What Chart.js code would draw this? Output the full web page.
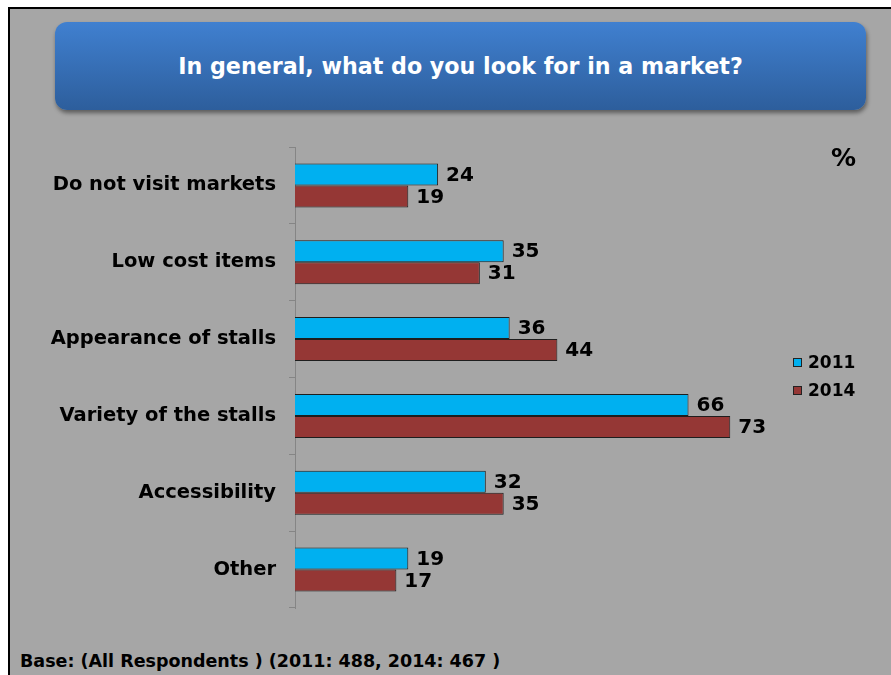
<!DOCTYPE html>
<html>
<head>
<meta charset="utf-8">
<script src="https://cdn.jsdelivr.net/npm/chart.js@4.4.1/dist/chart.umd.min.js"></script>
<style>
	html, body { margin: 0; padding: 0; background: #fff; }
	body { width: 891px; height: 675px; position: relative; overflow: hidden; font-family: 'DejaVu Sans', sans-serif; }
	.frame { position: absolute; left: 8px; top: 7px; width: 900px; height: 700px; background: #a6a6a6; border-top: 2px solid #000; border-left: 2px solid #000; }
	.title-box { position: absolute; left: 55px; top: 22px; width: 811px; height: 88px; border-radius: 12px;
		background: linear-gradient(#4080d0, #2d5e9c); box-shadow: 1px 3px 4px rgba(0,0,0,0.45);
		color: #fff; font-weight: bold; font-size: 22.2px; line-height: 88px; text-align: center; }
	.footer { position: absolute; left: 20px; top: 651px; font-weight: bold; font-size: 17.5px; color: #000; }
	canvas { position: absolute; left: 0; top: 0; }
</style>
</head>
<body>
<div class="frame"></div>
<div class="title-box">In general, what do you look for in a market?</div>
<div class="footer">Base: (All Respondents ) (2011: 488, 2014: 467 )</div>
<canvas id="chart" width="891" height="675"></canvas>
<script>
	'use strict';

	const categories = ['Do not visit markets', 'Low cost items', 'Appearance of stalls', 'Variety of the stalls', 'Accessibility', 'Other'];
	const seriesNames = ['2011', '2014'];
	const values2011 = [24, 35, 36, 66, 32, 19];
	const values2014 = [19, 31, 44, 73, 35, 17];

	const colors = ['#00b0f0', '#953735'];
	const fontFamily = "'DejaVu Sans', Verdana, sans-serif";

	// value labels at the end of each bar
	const valueLabels = {
		id: 'valueLabels',
		afterDatasetsDraw: function(chart) {
			const ctx = chart.ctx;
			ctx.save();
			ctx.fillStyle = '#000';
			ctx.font = 'bold 20px ' + fontFamily;
			ctx.textAlign = 'left';
			ctx.textBaseline = 'middle';
			chart.data.datasets.forEach(function(ds, i) {
				chart.getDatasetMeta(i).data.forEach(function(bar, j) {
					ctx.fillText(String(ds.data[j]), bar.x + 8, bar.y + 1);
				});
			});
			ctx.restore();
		}
	};

	// legend on the right and the % sign
	const sideLegend = {
		id: 'sideLegend',
		afterDraw: function(chart) {
			const ctx = chart.ctx;
			ctx.save();
			ctx.fillStyle = '#000';
			ctx.font = 'bold 25px ' + fontFamily;
			ctx.textBaseline = 'middle';
			ctx.fillText('%', 831, 159);

			ctx.font = 'bold 17px ' + fontFamily;
			chart.data.datasets.forEach(function(ds, i) {
				const y = 363 + i * 28;
				ctx.fillStyle = ds.backgroundColor;
				ctx.fillRect(793, y - 5, 9, 9);
				ctx.strokeStyle = '#222';
				ctx.lineWidth = 1;
				ctx.strokeRect(793.5, y - 4.5, 8, 8);
				ctx.fillStyle = '#000';
				ctx.fillText(ds.label, 808, y + 1);
			});
			ctx.restore();
		}
	};

	new Chart(document.getElementById('chart'), {
		type: 'bar',
		data: {
			labels: categories,
			datasets: [
				{ label: seriesNames[0], data: values2011, backgroundColor: colors[0], borderColor: '#1e1e1e', borderWidth: 1, borderSkipped: 'start' },
				{ label: seriesNames[1], data: values2014, backgroundColor: colors[1], borderColor: '#1e1e1e', borderWidth: 1, borderSkipped: 'start' }
			]
		},
		options: {
			indexAxis: 'y',
			responsive: false,
			animation: false,
			layout: {
				padding: { left: 0, top: 147, bottom: 67, right: 119 }
			},
			datasets: {
				bar: { barPercentage: 1, categoryPercentage: 0.573 }
			},
			plugins: {
				legend: { display: false },
				tooltip: { enabled: false }
			},
			scales: {
				x: {
					display: false,
					min: 0,
					max: 80
				},
				y: {
					afterFit: function(scale) {
						scale.width = 295;
					},
					border: { color: '#858585', width: 1 },
					grid: {
						drawOnChartArea: false,
						color: '#858585',
						tickLength: 6
					},
					ticks: {
						color: '#000',
						padding: 13,
						font: { family: fontFamily, size: 19.5, weight: 'bold' }
					}
				}
			}
		},
		plugins: [valueLabels, sideLegend]
	});
</script>
</body>
</html>
